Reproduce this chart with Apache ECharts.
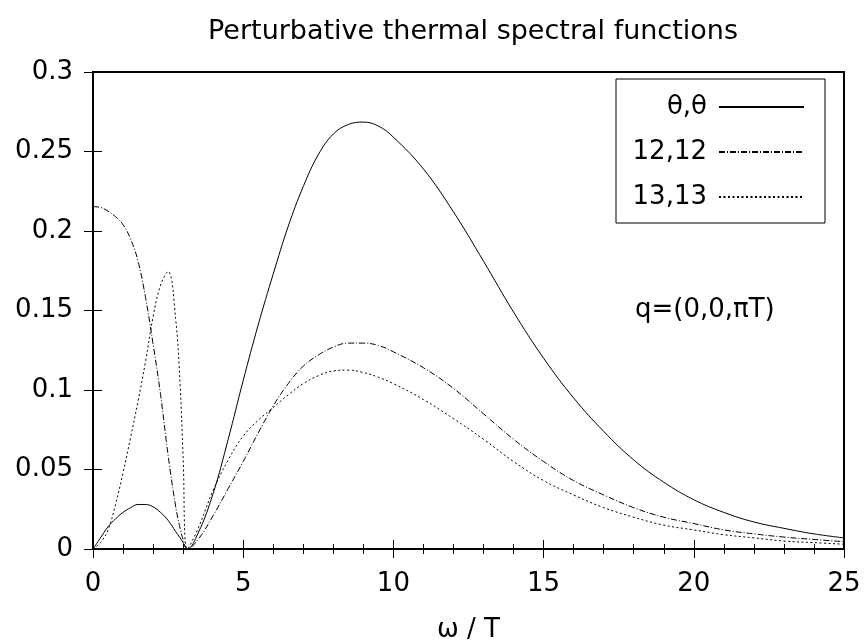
<!DOCTYPE html>
<html>
<head>
<meta charset="utf-8">
<script src="https://cdn.jsdelivr.net/npm/echarts@6/dist/echarts.min.js"></script>
<style>
  html, body { margin: 0; padding: 0; background: #fff; }
  #main { width: 866px; height: 641px; }
</style>
</head>
<body>
<div id="main"></div>
<script>
// ω/T 取样点
var omega = [0, 0.25, 0.5, 0.75, 1, 1.25, 1.5, 1.75, 2, 2.25, 2.5, 2.75, 2.9, 3, 3.14,
  3.5, 4, 4.5, 5, 5.5, 6, 6.5, 7, 7.5, 8, 8.5, 9, 9.5, 10,
  11, 12, 13, 14, 15, 16, 17, 18, 19, 20, 21, 22, 23, 24, 25]

var thetaTheta = [0, 0.007, 0.014, 0.019, 0.023, 0.026, 0.028, 0.028, 0.0265, 0.023, 0.018, 0.011, 0.007, 0.004, 0,
  0.010, 0.035, 0.069, 0.106, 0.141, 0.173, 0.203, 0.228, 0.248, 0.261, 0.267, 0.2685, 0.266, 0.259,
  0.239, 0.212, 0.181, 0.149, 0.120, 0.095, 0.074, 0.056, 0.042, 0.031, 0.023, 0.017, 0.013, 0.0095, 0.007]

var s1212 = [0.2153, 0.2148, 0.2125, 0.209, 0.204, 0.195, 0.181, 0.158, 0.129, 0.097, 0.059, 0.027, 0.013, 0.006, 0,
  0.006, 0.021, 0.038, 0.055, 0.073, 0.090, 0.104, 0.115, 0.122, 0.127, 0.1295, 0.1295, 0.128, 0.124,
  0.114, 0.101, 0.085, 0.069, 0.055, 0.043, 0.034, 0.026, 0.020, 0.016, 0.012, 0.0095, 0.0075, 0.006, 0.0046]

var s1313 = [0, 0.004, 0.012, 0.028, 0.048, 0.070, 0.093, 0.118, 0.146, 0.166, 0.1745, 0.145, 0.103, 0.058, 0,
  0.013, 0.037, 0.056, 0.071, 0.081, 0.089, 0.097, 0.104, 0.109, 0.112, 0.1125, 0.111, 0.108, 0.104,
  0.094, 0.082, 0.069, 0.055, 0.043, 0.034, 0.026, 0.020, 0.015, 0.012, 0.009, 0.007, 0.005, 0.004, 0.003]

var seriesNames = ['θ,θ', '12,12', '13,13']
var xTicks = [0, 5, 10, 15, 20, 25]
var yTicks = [0, 0.05, 0.1, 0.15, 0.2, 0.25, 0.3]

function pairs (ys) {
  return omega.map(function (x, i) { return [x, ys[i]] })
}

var font = 'DejaVu Sans, sans-serif'
var myChart = echarts.init(document.getElementById('main'))

function mkLine (name, ys, type) {
  return {
    name: name,
    type: 'line',
    data: pairs(ys),
    smooth: 0.4,
    symbol: 'none',
    color: '#000',
    lineStyle: { color: '#000', width: 1, type: type },
    animation: false
  }
}

// 上、右两条镜像轴只画刻度
function mirrorTicks (ax) {
  ax.axisLine = { show: true, lineStyle: { color: '#000', width: 2 } }
  ax.axisTick = { inside: true, length: 9, lineStyle: { color: '#000', width: 1 } }
  ax.axisLabel = { show: false }
  ax.splitLine = { show: false }
  return ax
}

var option = {
  backgroundColor: '#fff',
  title: {
    text: 'Perturbative thermal spectral functions',
    left: 468,
    top: 13,
    textAlign: 'center',
    textStyle: { fontFamily: font, fontSize: 27, fontWeight: 'normal', color: '#000' }
  },
  grid: {
    left: 93, top: 72, right: 22, bottom: 92,
    outerBoundsMode: 'none',
    containLabel: false,
    show: true, borderColor: '#000', borderWidth: 2, backgroundColor: 'transparent'
  },
  legend: {
    orient: 'vertical',
    left: 616,
    top: 79,
    align: 'right',
    itemWidth: 85,
    itemHeight: 14,
    itemGap: 15,
    padding: [13, 20, 11, 7],
    borderColor: '#000',
    borderWidth: 1,
    data: seriesNames,
    itemStyle: { opacity: 0 },
    textStyle: {
      fontFamily: font, fontSize: 26, color: '#000',
      width: 84, align: 'right', lineHeight: 30, padding: [0, 7, 0, 0]
    }
  },
  xAxis: [{
    type: 'value',
    min: xTicks[0], max: xTicks[xTicks.length - 1], interval: 5,
    name: 'ω / T',
    nameLocation: 'middle',
    nameGap: 68,
    nameTextStyle: { fontFamily: font, fontSize: 26, color: '#000' },
    axisLine: { show: true, lineStyle: { color: '#000', width: 2 } },
    axisTick: { inside: true, length: 9, lineStyle: { color: '#000', width: 1 } },
    minorTick: { show: true, splitNumber: 5, length: 5, lineStyle: { color: '#000', width: 1 } },
    axisLabel: { fontFamily: font, fontSize: 26, color: '#000', margin: 22 },
    splitLine: { show: false }
  }, mirrorTicks({
    type: 'value', position: 'top',
    min: 0, max: 25, interval: 5,
    minorTick: { show: true, splitNumber: 5, length: 5, lineStyle: { color: '#000', width: 1 } }
  })],
  yAxis: [{
    type: 'value',
    min: yTicks[0], max: yTicks[yTicks.length - 1], interval: 0.05,
    axisLine: { show: true, lineStyle: { color: '#000', width: 2 } },
    axisTick: { inside: true, length: 9, lineStyle: { color: '#000', width: 1 } },
    axisLabel: { fontFamily: font, fontSize: 26, color: '#000', margin: 20 },
    splitLine: { show: false }
  }, mirrorTicks({
    type: 'value', position: 'right',
    min: 0, max: 0.3, interval: 0.05
  })],
  graphic: [{
    type: 'text',
    left: 635,
    top: 297,
    style: { text: 'q=(0,0,πT)', font: '26px ' + font, fill: '#000' }
  }],
  series: [
    mkLine(seriesNames[0], thetaTheta, 'solid'),
    mkLine(seriesNames[1], s1212, [6, 2, 1, 2]),
    mkLine(seriesNames[2], s1313, [2, 2.5])
  ]
}

myChart.setOption(option)
</script>
</body>
</html>
